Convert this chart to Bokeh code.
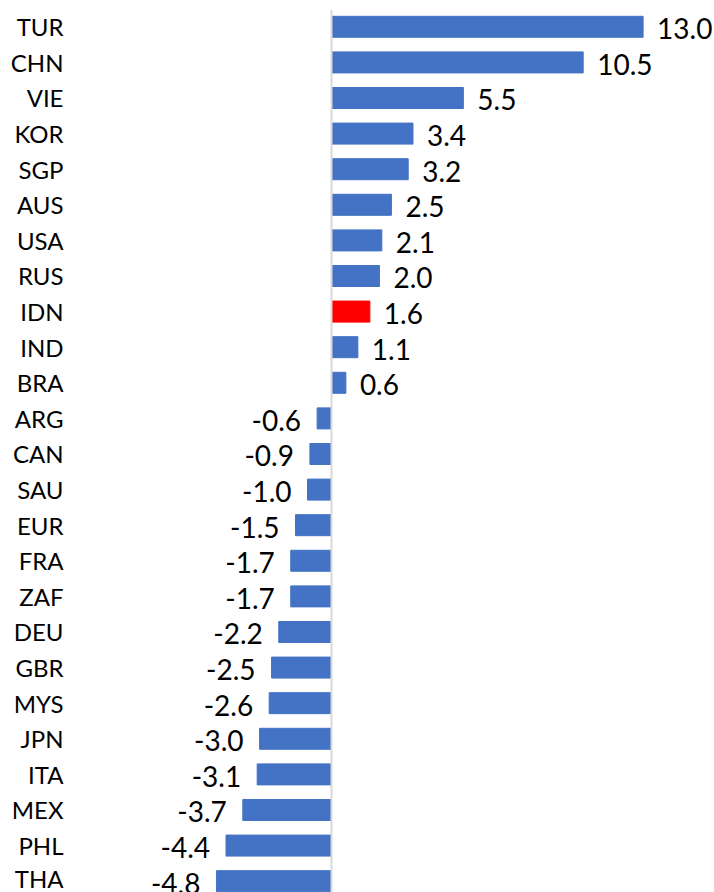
from bokeh.plotting import figure
from bokeh.models import ColumnDataSource, Range1d, FixedTicker, Span
from bokeh.core.properties import value
from bokeh.embed import file_html
from bokeh.resources import INLINE

countries = ["TUR", "CHN", "VIE", "KOR", "SGP", "AUS", "USA", "RUS", "IDN", "IND",
             "BRA", "ARG", "CAN", "SAU", "EUR", "FRA", "ZAF", "DEU", "GBR", "MYS",
             "JPN", "ITA", "MEX", "PHL", "THA"]
values = [13.0, 10.5, 5.5, 3.4, 3.2, 2.5, 2.1, 2.0, 1.6, 1.1,
          0.6, -0.6, -0.9, -1.0, -1.5, -1.7, -1.7, -2.2, -2.5, -2.6,
          -3.0, -3.1, -3.7, -4.4, -4.8]
highlight = "IDN"

BLUE = "#4472C4"
RED = "#FF0000"

pos = list(range(len(countries)))
colors = [RED if c == highlight else BLUE for c in countries]
labels = [f"{v:.1f}" for v in values]

src = ColumnDataSource(dict(y=pos, v=values, color=colors, label=labels))
pos_src = ColumnDataSource(dict(
    y=[p_ for p_, v in zip(pos, values) if v >= 0],
    v=[v for v in values if v >= 0],
    label=[l for l, v in zip(labels, values) if v >= 0]))
neg_src = ColumnDataSource(dict(
    y=[p_ for p_, v in zip(pos, values) if v < 0],
    v=[v for v in values if v < 0],
    label=[l for l, v in zip(labels, values) if v < 0]))

p = figure(width=714, height=892, output_backend="svg", toolbar_location=None,
           x_range=Range1d(-10.805, 15.895), y_range=Range1d(24.318, -0.486),
           x_axis_location=None, min_border_left=72, min_border_right=2,
           min_border_top=9, min_border_bottom=0)
p.outline_line_color = None
p.grid.visible = False
p.background_fill_color = "white"
p.border_fill_color = "white"

p.hbar(y="y", left=0, right="v", height=0.59, color="color", source=src)

p.add_layout(Span(location=0, dimension="height", line_color="#D9D9D9", line_width=2))

p.text(x="v", y="y", text="label", source=pos_src, x_offset=14, y_offset=2,
       text_align="left", text_baseline="middle", text_font=value("Lato"),
       text_font_size="28px", text_color="black")
p.text(x="v", y="y", text="label", source=neg_src, x_offset=-16, y_offset=2,
       text_align="right", text_baseline="middle", text_font=value("Lato"),
       text_font_size="28px", text_color="black")

ax = p.yaxis[0]
ax.ticker = FixedTicker(ticks=pos)
ax.major_label_overrides = {i: c for i, c in zip(pos, countries)}
ax.axis_line_color = None
ax.major_tick_line_color = None
ax.minor_tick_line_color = None
ax.major_tick_out = 0
ax.major_label_standoff = 9
ax.major_label_text_font = "Lato"
ax.major_label_text_font_size = "24px"
ax.major_label_text_color = "black"

open("out.html", "w").write(file_html(p, INLINE))
